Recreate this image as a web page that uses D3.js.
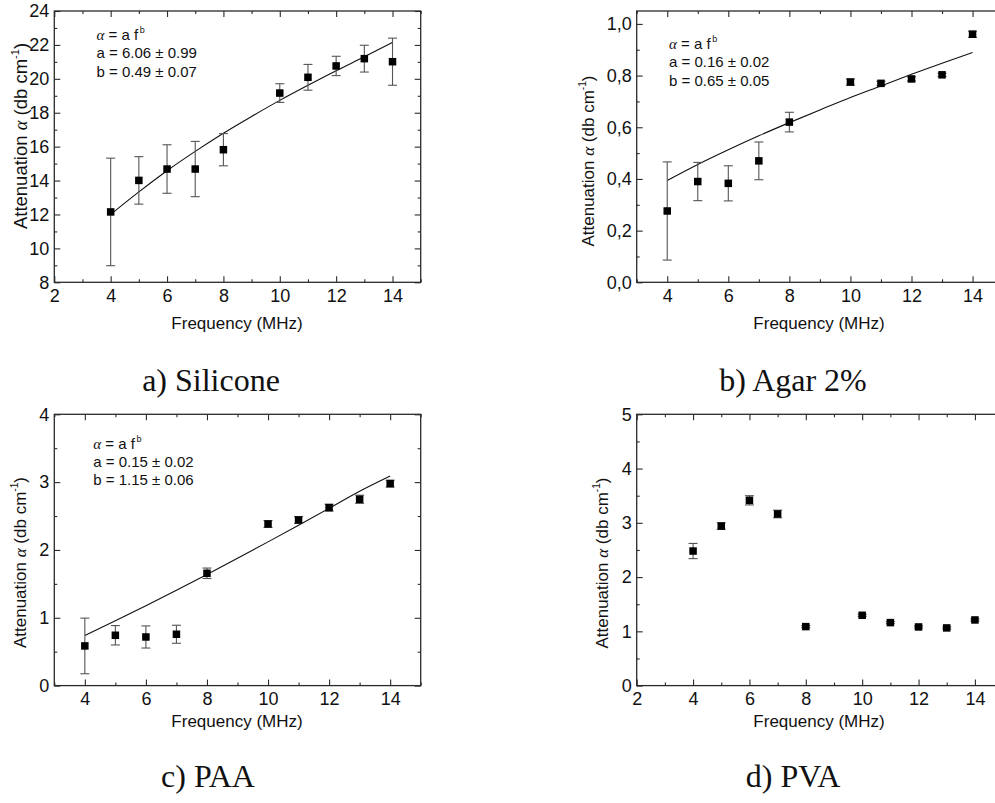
<!DOCTYPE html>
<html>
<head>
<meta charset="utf-8">
<script src="https://cdn.jsdelivr.net/npm/d3@7"></script>
<style>
  html, body { margin: 0; padding: 0; background: #fff; }
  svg { display: block; }
  .tick text { font-family: "Liberation Sans", Arial, sans-serif; fill: #111; }
</style>
</head>
<body>
<svg id="chart" width="995" height="803"></svg>
<script>
// ---------------- data ----------------
const freq = [4, 5, 6, 7, 8, 10, 11, 12, 13, 14];

const siliconeAtt = [12.15, 14.01, 14.68, 14.68, 15.82, 19.16, 20.09, 20.76, 21.19, 21.01];
const siliconeErr = [3.17, 1.40, 1.43, 1.63, 0.95, 0.55, 0.76, 0.57, 0.79, 1.39];

const agarAtt = [0.276, 0.390, 0.383, 0.470, 0.620, 0.775, 0.770, 0.787, 0.803, 0.960];
const agarErr = [0.190, 0.074, 0.068, 0.073, 0.038, 0.012, 0.008, 0.008, 0.006, 0.012];

const paaAtt = [0.585, 0.742, 0.717, 0.757, 1.656, 2.383, 2.442, 2.624, 2.747, 2.978];
const paaErr = [0.41, 0.143, 0.163, 0.133, 0.077, 0.05, 0.05, 0.05, 0.06, 0.05];

const pvaAtt = [2.48, 2.94, 3.415, 3.163, 1.087, 1.296, 1.161, 1.081, 1.063, 1.21];
const pvaErr = [0.14, 0.06, 0.085, 0.07, 0.02, 0.02, 0.02, 0.02, 0.02, 0.02];

// fitted curves alpha = a f^b
const fitFreq = [4, 5, 6, 7, 8, 9, 10, 11, 12, 13, 14];
const siliconeFit = [12.0, 13.33, 14.58, 15.72, 16.79, 17.78, 18.73, 19.62, 20.48, 21.30, 22.15];
const agarFit = [0.394, 0.456, 0.513, 0.567, 0.618, 0.667, 0.715, 0.760, 0.805, 0.848, 0.889];
const paaFit = [0.74, 0.955, 1.178, 1.406, 1.639, 1.877, 2.119, 2.364, 2.613, 2.865, 3.09];

const siliconeFitText = ["a = 6.06 \u00B1 0.99", "b = 0.49 \u00B1 0.07"];
const agarFitText = ["a = 0.16 \u00B1 0.02", "b = 0.65 \u00B1 0.05"];
const paaFitText = ["a = 0.15 \u00B1 0.02", "b = 1.15 \u00B1 0.06"];

// ticks
const xMajorFrom2 = [2, 4, 6, 8, 10, 12, 14];
const xMajorFrom4 = [4, 6, 8, 10, 12, 14];
const xMinor = [3, 5, 7, 9, 11, 13, 15];
const siliconeYMajor = [8, 10, 12, 14, 16, 18, 20, 22, 24];
const siliconeYMinor = [9, 11, 13, 15, 17, 19, 21, 23];
const agarYMajor = [0, 0.2, 0.4, 0.6, 0.8, 1.0];
const agarYLabels = ["0,0", "0,2", "0,4", "0,6", "0,8", "1,0"];
const agarYMinor = [0.1, 0.3, 0.5, 0.7, 0.9];
const paaYMajor = [0, 1, 2, 3, 4];
const paaYMinor = [0.5, 1.5, 2.5, 3.5];
const pvaYMajor = [0, 1, 2, 3, 4, 5];
const pvaYMinor = [0.5, 1.5, 2.5, 3.5, 4.5];

const captions = ["a) Silicone", "b) Agar 2%", "c) PAA", "d) PVA"];

// ---------------- layout ----------------
const panels = [
  { left: 54.3, top: 11, xDom: [2, 15], yDom: [8, 24], att: siliconeAtt, err: siliconeErr, fit: siliconeFit,
    fitText: siliconeFitText, annX: 96.5, annY: 40, xMaj: xMajorFrom2, yMaj: siliconeYMajor, yMin: siliconeYMinor,
    yLab: null, yTitleX: 27, yTitleY: 136, yTitleSize: 18.5, capX: 211, capY: 391, xTitleX: 237, xTitleY: 329 },
  { left: 636.7, top: 11, xDom: [3, 15], yDom: [0, 1.05], att: agarAtt, err: agarErr, fit: agarFit,
    fitText: agarFitText, annX: 669, annY: 49, xMaj: xMajorFrom4, yMaj: agarYMajor, yMin: agarYMinor,
    yLab: agarYLabels, yTitleX: 594, yTitleY: 161, yTitleSize: 17, capX: 793, capY: 391, xTitleX: 819, xTitleY: 329 },
  { left: 54.3, top: 414.3, xDom: [3, 15], yDom: [0, 4], att: paaAtt, err: paaErr, fit: paaFit,
    fitText: paaFitText, annX: 93.3, annY: 448.5, xMaj: xMajorFrom4, yMaj: paaYMajor, yMin: paaYMinor,
    yLab: null, yTitleX: 26, yTitleY: 562.5, yTitleSize: 17, capX: 208, capY: 786.5, xTitleX: 237, xTitleY: 727 },
  { left: 636.7, top: 414.3, xDom: [2, 15], yDom: [0, 5], att: pvaAtt, err: pvaErr, fit: null,
    fitText: null, xMaj: xMajorFrom2, yMaj: pvaYMajor, yMin: pvaYMinor,
    yLab: null, yTitleX: 607.5, yTitleY: 563, yTitleSize: 17, capX: 793, capY: 786.5, xTitleX: 819, xTitleY: 727 }
];
const W = 366.4, H = 271.3;
const FONT = '"Liberation Sans", Arial, sans-serif';
const AX = "#2a2a2a";

const svg = d3.select("#chart");

panels.forEach((p, i) => {
  const g = svg.append("g").attr("transform", `translate(${p.left},${p.top})`);
  const x = d3.scaleLinear().domain(p.xDom).range([0, W]);
  const y = d3.scaleLinear().domain(p.yDom).range([H, 0]);

  const styleAxis = sel => {
    sel.attr("font-size", null).attr("font-family", null);
    sel.select(".domain").remove();
    sel.selectAll(".tick line").attr("stroke", AX).attr("stroke-width", 1.1);
    sel.selectAll(".tick text").style("font-size", "18px");
  };

  // bottom
  g.append("g").attr("transform", `translate(0,${H})`)
    .call(d3.axisBottom(x).tickValues(p.xMaj).tickSize(-6).tickPadding(7).tickFormat(d3.format("d")))
    .call(styleAxis);
  g.append("g").attr("transform", `translate(0,${H})`)
    .call(d3.axisBottom(x).tickValues(xMinor).tickSize(-3).tickFormat(""))
    .call(styleAxis);
  // top
  g.append("g").call(d3.axisTop(x).tickValues(p.xMaj).tickSize(-6).tickFormat("")).call(styleAxis);
  g.append("g").call(d3.axisTop(x).tickValues(xMinor).tickSize(-3).tickFormat("")).call(styleAxis);
  // left
  const yFmt = p.yLab ? (d, k) => p.yLab[k] : d3.format("d");
  g.append("g")
    .call(d3.axisLeft(y).tickValues(p.yMaj).tickSize(-6).tickPadding(5).tickFormat(yFmt))
    .call(styleAxis);
  g.append("g").call(d3.axisLeft(y).tickValues(p.yMin).tickSize(-3).tickFormat("")).call(styleAxis);
  // right
  g.append("g").attr("transform", `translate(${W},0)`)
    .call(d3.axisRight(y).tickValues(p.yMaj).tickSize(-6).tickFormat("")).call(styleAxis);
  g.append("g").attr("transform", `translate(${W},0)`)
    .call(d3.axisRight(y).tickValues(p.yMin).tickSize(-3).tickFormat("")).call(styleAxis);

  // frame
  g.append("rect").attr("x", 0).attr("y", 0).attr("width", W).attr("height", H)
    .attr("fill", "none").attr("stroke", AX).attr("stroke-width", 1.3);

  // fit curve
  if (p.fit) {
    const line = d3.line().x((d, k) => x(fitFreq[k])).y(d => y(d)).curve(d3.curveMonotoneX);
    g.append("path").datum(p.fit).attr("d", line)
      .attr("fill", "none").attr("stroke", "#111").attr("stroke-width", 1.1);
  }

  // error bars
  const cap = 4.5;
  const eb = g.append("g").attr("stroke", "#555").attr("stroke-width", 1.1).attr("fill", "none");
  freq.forEach((f, k) => {
    const cx = x(f), y1 = y(p.att[k] + p.err[k]), y2 = y(p.att[k] - p.err[k]);
    eb.append("line").attr("x1", cx).attr("x2", cx).attr("y1", y1).attr("y2", y2);
    eb.append("line").attr("x1", cx - cap).attr("x2", cx + cap).attr("y1", y1).attr("y2", y1);
    eb.append("line").attr("x1", cx - cap).attr("x2", cx + cap).attr("y1", y2).attr("y2", y2);
  });

  // markers
  const s = 7.5;
  g.append("g").selectAll("rect").data(p.att).join("rect")
    .attr("x", (d, k) => x(freq[k]) - s / 2).attr("y", d => y(d) - s / 2)
    .attr("width", s).attr("height", s).attr("fill", "#000");

  // annotation
  if (p.fitText) {
    const t = svg.append("text").attr("x", p.annX).attr("y", p.annY)
      .attr("font-family", FONT).attr("font-size", 15).attr("fill", "#111");
    t.append("tspan").attr("font-family", '"Liberation Serif", serif').attr("font-style", "italic").text("\u03B1");
    t.append("tspan").text(" = a f");
    t.append("tspan").attr("font-size", 9).attr("dx", 1.5).attr("dy", -7).text("b");
    p.fitText.forEach((line, k) => {
      svg.append("text").attr("x", p.annX).attr("y", p.annY + 18.3 * (k + 1))
        .attr("font-family", FONT).attr("font-size", 15).attr("fill", "#111").text(line);
    });
  }

  // x title
  svg.append("text").attr("x", p.xTitleX).attr("y", p.xTitleY)
    .attr("text-anchor", "middle").attr("font-family", FONT).attr("font-size", 17).attr("fill", "#111")
    .text("Frequency (MHz)");

  // y title
  const yt = svg.append("text")
    .attr("transform", `translate(${p.yTitleX},${p.yTitleY}) rotate(-90)`)
    .attr("text-anchor", "middle").attr("font-family", FONT).attr("font-size", p.yTitleSize).attr("fill", "#111");
  yt.append("tspan").text("Attenuation ");
  yt.append("tspan").attr("font-family", '"Liberation Serif", serif').attr("font-style", "italic").text("\u03B1");
  yt.append("tspan").text(" (db cm");
  yt.append("tspan").attr("font-size", p.yTitleSize * 0.6).attr("dy", -8).text("-1");
  yt.append("tspan").attr("dy", 8).text(")");

  // caption
  svg.append("text").attr("x", p.capX).attr("y", p.capY)
    .attr("text-anchor", "middle").attr("font-family", '"Liberation Serif", "Times New Roman", serif')
    .attr("font-size", 32).attr("fill", "#111").text(captions[i]);
});
</script>
</body>
</html>
